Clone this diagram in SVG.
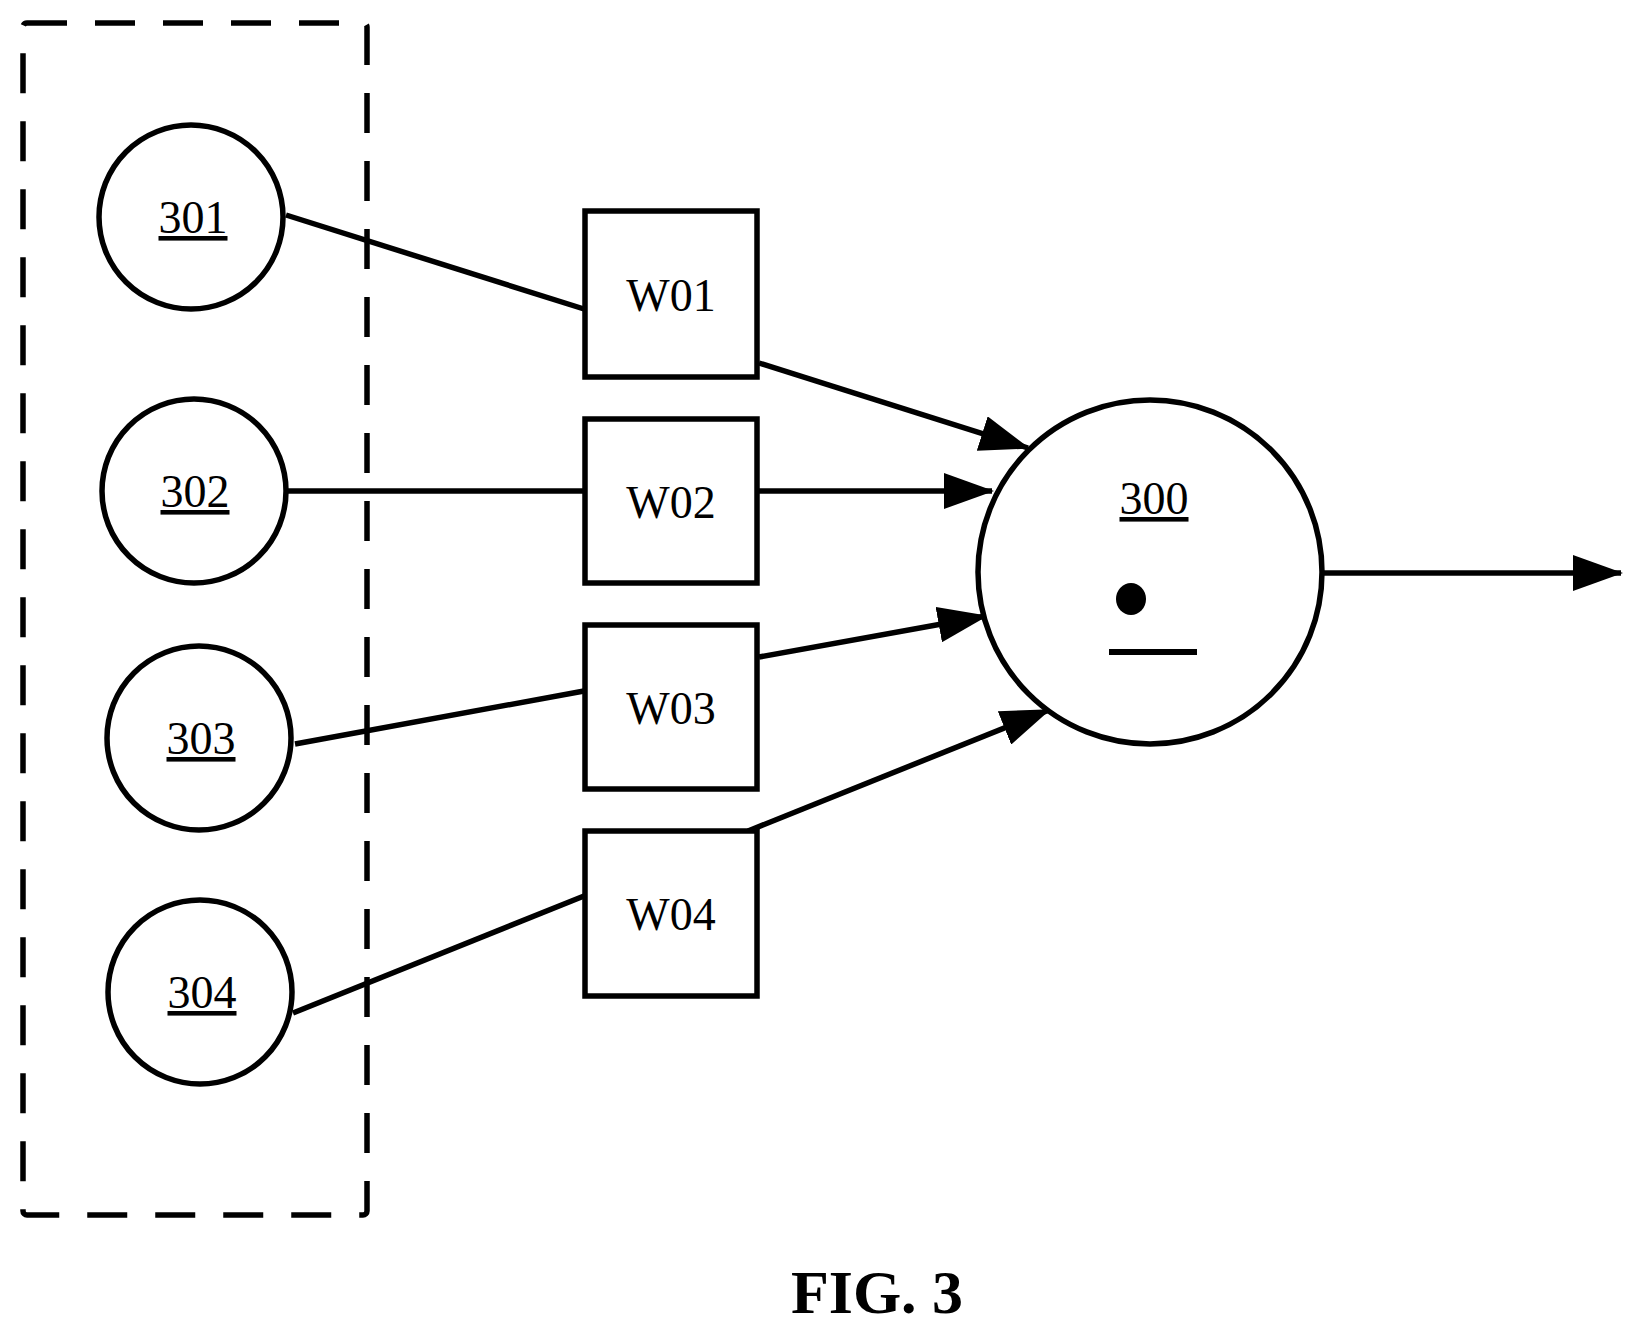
<svg xmlns="http://www.w3.org/2000/svg" width="1633" height="1327" viewBox="0 0 1633 1327">
<style>
.s{fill:none;stroke:#000;stroke-width:5.5}
.n{fill:#fff;stroke:#000;stroke-width:5.5}
.t{font-family:"Liberation Serif",serif;font-size:46px;text-anchor:middle;fill:#000}
.u{text-decoration:underline}
.c{stroke:#000;stroke-width:5.5;fill:none}
</style>
<defs>
<marker id="a" markerUnits="userSpaceOnUse" markerWidth="50" markerHeight="36" refX="48" refY="18" orient="auto">
<path d="M0,0 L50,18 L0,36 Z" fill="#000"/>
</marker>
</defs>
<rect id="group" x="23" y="23" width="344" height="1192" rx="4" class="s" stroke-dasharray="40,28"/>
<g id="connectors">
<line class="c" x1="286" y1="215" x2="584" y2="309"/>
<line class="c" x1="759" y1="363" x2="1028" y2="448" marker-end="url(#a)"/>
<line class="c" x1="288" y1="491" x2="584" y2="491"/>
<line class="c" x1="759" y1="491" x2="992" y2="491" marker-end="url(#a)"/>
<line class="c" x1="295" y1="744" x2="584" y2="691"/>
<line class="c" x1="759" y1="657" x2="986" y2="616" marker-end="url(#a)"/>
<line class="c" x1="293" y1="1013" x2="584" y2="896"/>
<line class="c" x1="748" y1="831" x2="1049" y2="710" marker-end="url(#a)"/>
<line class="c" x1="1321" y1="573" x2="1621" y2="573" marker-end="url(#a)"/>
</g>
<g id="n301"><circle cx="191" cy="217" r="92" class="n"/><text x="193" y="233" class="t u">301</text></g>
<g id="n302"><circle cx="194" cy="491" r="92" class="n"/><text x="195" y="507" class="t u">302</text></g>
<g id="n303"><circle cx="199" cy="738" r="92" class="n"/><text x="201" y="754" class="t u">303</text></g>
<g id="n304"><circle cx="200" cy="992" r="92" class="n"/><text x="202" y="1008" class="t u">304</text></g>
<g id="w01"><rect x="585" y="211" width="172" height="166" class="n"/><text x="671" y="311" class="t">W01</text></g>
<g id="w02"><rect x="585" y="419" width="172" height="164" class="n"/><text x="671" y="518" class="t">W02</text></g>
<g id="w03"><rect x="585" y="625" width="172" height="164" class="n"/><text x="671" y="724" class="t">W03</text></g>
<g id="w04"><rect x="585" y="831" width="172" height="165" class="n"/><text x="671" y="930" class="t">W04</text></g>
<g id="n300"><circle cx="1150" cy="572" r="172" class="n"/><text x="1154" y="514" class="t u">300</text>
<ellipse cx="1131" cy="599" rx="15" ry="16" fill="#000"/>
<line x1="1109" y1="652" x2="1197" y2="652" stroke="#000" stroke-width="6"/></g>
<text x="877" y="1313" font-family="Liberation Serif,serif" font-weight="bold" font-size="62" text-anchor="middle">FIG. 3</text>
</svg>
